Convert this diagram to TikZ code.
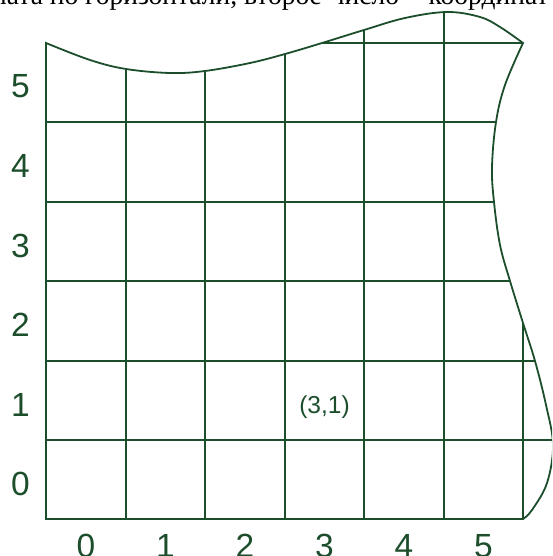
\documentclass[tikz,border=0pt]{standalone}
\usepackage{fontspec}
\setmainfont{Liberation Serif}
\newfontfamily\labfont{Liberation Sans}
\definecolor{gridgreen}{RGB}{28,78,44}
\tikzset{
  gridline/.style={draw=gridgreen, line width=1.7pt},
  outline/.style={draw=gridgreen, line width=1.8pt, line join=miter},
  axislabel/.style={text=gridgreen, font=\labfont\fontsize{33.5}{36}\selectfont, inner sep=0pt, anchor=base},
  celllabel/.style={text=gridgreen, font=\labfont\fontsize{24.5}{26}\selectfont, inner sep=0pt, anchor=base},
  headtext/.style={text=black, font=\fontsize{27.5}{30}\selectfont, inner sep=0pt, anchor=base west}
}
\begin{document}
\begin{tikzpicture}[x=1pt,y=-1pt]
\useasboundingbox (0,0) rectangle (552,556);
\clip (0,0) rectangle (552,556);
% cut-off heading line
\node[headtext] (head) at (-8,5) {ната по горизонтали, второе\hspace{9pt}число\hspace{9pt}– координат};
\def\outlinepath{(46,519) -- (46,43)
  -- plot[smooth, tension=0.6] coordinates {(46,43) (90,60) (126,69) (170,73) (205,71) (250,63) (285,54) (322,43) (364,30) (405,18) (447,12) (480,17) (500,27) (523,43)}
  -- plot[smooth, tension=0.6] coordinates {(523,43) (505,85) (496,122) (492,167) (494,202) (500,245) (510,281) (523,323) (535,361) (546,405) (553,445) (547,483) (532,510) (523,519)}
  -- cycle}
\begin{scope}
  \clip \outlinepath;
  \foreach \gx in {126,205,285,364,444,523}
    \draw[gridline] (\gx,0) -- (\gx,519);
  \foreach \gy in {43,122,202,281,361,440}
    \draw[gridline] (46,\gy) -- (560,\gy);
\end{scope}
\draw[outline] \outlinepath;
% row labels
\node[axislabel] (ly0) at (20.5,495.5) {0};
\node[axislabel] (ly1) at (20.5,416.5) {1};
\node[axislabel] (ly2) at (20.5,336.5) {2};
\node[axislabel] (ly3) at (20.5,257) {3};
\node[axislabel] (ly4) at (20.5,177.5) {4};
\node[axislabel] (ly5) at (20.5,97.5) {5};
% column labels
\node[axislabel] (lx0) at (86,557) {0};
\node[axislabel] (lx1) at (165.5,557) {1};
\node[axislabel] (lx2) at (245,557) {2};
\node[axislabel] (lx3) at (324.5,557) {3};
\node[axislabel] (lx4) at (404,557) {4};
\node[axislabel] (lx5) at (483.5,557) {5};
% cell label
\node[celllabel] (c31) at (324.5,413) {(3,1)};
\end{tikzpicture}
\end{document}
